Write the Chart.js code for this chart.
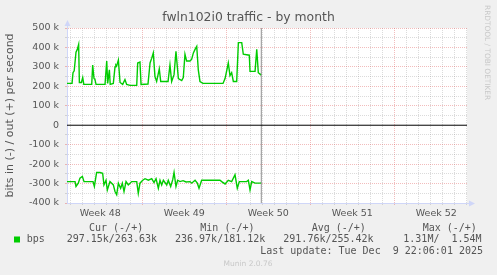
<!DOCTYPE html>
<html><head><meta charset="utf-8">
<script src="https://cdn.jsdelivr.net/npm/chart.js@4/dist/chart.umd.min.js"></script>
<style>html,body{margin:0;padding:0;background:#f0f0f0;}canvas{display:block}</style>
</head><body>
<canvas id="c" width="497" height="275"></canvas>
<script>
// ---- data (x = days since Sun 23 Nov 2025 00:00, values in kbit/s) ----
const chartTitle = 'fwln102i0 traffic - by month';
const yAxisTitle = 'bits in (-) / out (+) per second';
const watermark = 'RRDTOOL / TOBI OETIKER';
const weekNumbers = [48, 49, 50, 51, 52];
const weekStarts = [0, 7, 14, 21, 28, 35];
const xMin = 0.73, xMax = 34.06;
const yMin = -400000, yMax = 500000;
const nowDay = 16.92;

const outDays = [0.73,1.15,1.23,1.33,1.48,1.59,1.70,1.76,1.93,2.04,2.13,2.23,2.79,2.87,2.98,3.06,3.15,3.90,4.04,4.12,4.26,4.33,4.59,4.73,4.80,4.87,5.01,5.15,5.37,5.56,5.70,5.98,6.54,6.62,6.81,6.90,7.48,7.65,7.79,7.92,8.06,8.20,8.42,8.54,8.73,9.15,9.31,9.45,9.65,9.81,10.01,10.29,10.42,10.56,10.70,10.98,11.12,11.26,11.40,11.54,11.67,11.81,12.06,13.73,13.90,14.17,14.31,14.45,14.59,14.87,15.01,15.29,15.42,15.92,15.98,16.40,16.54,16.67,16.87,16.92];
const outK = [215,215,270,280,375,390,415,220,220,245,210,210,210,310,240,235,210,210,330,215,285,210,215,300,310,305,335,220,210,235,210,205,205,320,325,210,212,320,345,372,250,225,290,225,225,225,310,225,260,380,240,230,245,365,330,330,340,372,390,405,285,225,215,215,240,320,255,270,225,225,425,425,365,360,277,277,390,270,260,264];

const inDays = [0.73,1.40,1.48,1.67,1.81,2.01,2.15,2.90,3.01,3.20,3.48,3.70,3.81,3.98,4.09,4.31,4.59,4.73,4.87,5.01,5.20,5.34,5.48,5.65,5.84,6.12,6.54,6.67,6.81,7.04,7.23,7.51,7.79,7.98,8.15,8.34,8.48,8.62,8.76,9.04,9.17,9.37,9.54,9.65,9.81,9.95,10.15,10.40,10.65,10.98,11.12,11.40,11.59,11.73,11.95,12.65,13.48,13.62,13.90,14.17,14.45,14.73,14.92,15.09,15.70,15.84,15.98,16.12,16.40,16.81,16.92];
const inK = [-290,-290,-315,-298,-272,-263,-290,-290,-315,-243,-243,-247,-307,-283,-333,-290,-307,-341,-358,-298,-324,-298,-341,-290,-307,-290,-290,-350,-298,-283,-275,-283,-275,-295,-275,-324,-283,-307,-283,-307,-283,-315,-280,-243,-315,-283,-290,-285,-292,-290,-298,-283,-298,-324,-283,-283,-283,-290,-302,-283,-290,-255,-324,-290,-290,-283,-333,-290,-298,-298,-297];

const legendSeries = 'bps';
const legendHeaders = ['Cur (-/+)', 'Min (-/+)', 'Avg (-/+)', 'Max (-/+)'];
const legendValues = ['297.15k/263.63k', '236.97k/181.12k', '291.76k/255.42k', '1.31M/  1.54M'];
const lastUpdate = 'Last update: Tue Dec  9 22:06:01 2025';
const version = 'Munin 2.0.76';

// ---- styling ----
const GREEN = '#00cc00';
const MGRID = 'rgba(222,80,80,0.38)';
const GRID = 'rgba(143,143,143,0.32)';
const AXIS = '#CFD6F8';
const FONT = '#555555';

const toPts = (xs, ys) => xs.map((x, i) => ({x: x, y: ys[i] * 1000}));

const bgPlugin = {
  id: 'bg',
  beforeDraw(chart) {
    const {ctx, chartArea: a} = chart;
    ctx.save();
    ctx.fillStyle = '#f0f0f0';
    ctx.fillRect(0, 0, chart.width, chart.height);
    ctx.fillStyle = '#ffffff';
    ctx.fillRect(a.left, a.top, a.right - a.left, a.bottom - a.top);
    ctx.restore();
  }
};

const decoPlugin = {
  id: 'deco',
  afterDraw(chart) {
    const {ctx, chartArea: a} = chart;
    ctx.save();
    // arrows
    ctx.fillStyle = AXIS; ctx.strokeStyle = AXIS; ctx.lineWidth = 1;
    ctx.beginPath(); ctx.moveTo(a.left + 0.5, a.top); ctx.lineTo(a.left + 0.5, a.top - 3); ctx.stroke();
    ctx.beginPath(); ctx.moveTo(a.left + 0.5, a.top - 8); ctx.lineTo(a.left - 2.5, a.top - 2); ctx.lineTo(a.left + 3.5, a.top - 2); ctx.closePath(); ctx.fill();
    ctx.beginPath(); ctx.moveTo(a.right, a.bottom + 0.5); ctx.lineTo(a.right + 2, a.bottom + 0.5); ctx.stroke();
    ctx.beginPath(); ctx.moveTo(a.right + 8, a.bottom + 0.5); ctx.lineTo(a.right + 2, a.bottom - 2.5); ctx.lineTo(a.right + 2, a.bottom + 3.5); ctx.closePath(); ctx.fill();

    // title
    ctx.fillStyle = FONT;
    ctx.font = '12.4px "DejaVu Sans"';
    ctx.textAlign = 'center'; ctx.textBaseline = 'middle';
    ctx.fillText(chartTitle, chart.width / 2, 18);
    // y axis title
    ctx.save();
    ctx.translate(10.5, (a.top + a.bottom) / 2);
    ctx.rotate(-Math.PI / 2);
    ctx.font = '11px "DejaVu Sans"';
    ctx.fillText(yAxisTitle, 0, 0);
    ctx.restore();
    // watermark
    ctx.save();
    ctx.translate(487, 5);
    ctx.rotate(Math.PI / 2);
    ctx.font = '7.4px "DejaVu Sans"';
    ctx.fillStyle = '#c8c8c8';
    ctx.textAlign = 'left';
    ctx.fillText(watermark, 0, 0);
    ctx.restore();

    // legend
    ctx.font = '10px "DejaVu Sans Mono"';
    ctx.textAlign = 'left'; ctx.textBaseline = 'middle';
    ctx.fillStyle = FONT;
    const colX = [66.7, 175, 283.3, 403.3];
    const hdrX = [89, 200.3, 311.7, 422.7];
    legendHeaders.forEach((h, i) => ctx.fillText(h, hdrX[i], 228));
    legendValues.forEach((v, i) => ctx.fillText(v, colX[i], 239.5));
    ctx.fillText(legendSeries, 26.7, 239.5);
    ctx.fillStyle = GREEN;
    ctx.fillRect(14, 236.5, 6, 6);
    ctx.fillStyle = FONT;
    ctx.textAlign = 'right';
    ctx.fillText(lastUpdate, 483, 251);
    ctx.textAlign = 'center';
    ctx.font = '7.5px "DejaVu Sans"';
    ctx.fillStyle = '#c8c8c8';
    ctx.fillText(version, 248, 264);
    ctx.restore();
  }
};

const isMult = (v, m) => Math.abs(v / m - Math.round(v / m)) < 1e-6;

new Chart(document.getElementById('c'), {
  type: 'line',
  data: {
    datasets: [
      {data: [{x: xMin, y: 0}, {x: xMax, y: 0}], borderColor: '#000000', borderWidth: 1, pointRadius: 0},
      {data: [{x: nowDay, y: yMin}, {x: nowDay, y: yMax}], borderColor: '#909090', borderWidth: 1, pointRadius: 0},
      {label: 'out', data: toPts(outDays, outK), borderColor: GREEN, borderWidth: 1.4, pointRadius: 0, tension: 0},
      {label: 'in', data: toPts(inDays, inK), borderColor: GREEN, borderWidth: 1.4, pointRadius: 0, tension: 0}
    ]
  },
  options: {
    responsive: false,
    animation: false,
    devicePixelRatio: 1,
    layout: {padding: {top: 28, right: 30, bottom: 0, left: 0}},
    plugins: {legend: {display: false}, tooltip: {enabled: false}, title: {display: false}},
    scales: {
      x: {
        type: 'linear', min: xMin, max: xMax,
        afterBuildTicks(scale) {
          const t = [];
          for (let v = Math.ceil(xMin * 2) / 2; v <= xMax; v += 0.5) t.push({value: v});
          scale.ticks = t;
        },
        afterFit(scale) { scale.height = 72; },
        grid: {
          drawTicks: true, tickLength: 2,
          color(ctx) {
            const v = ctx.tick ? ctx.tick.value : 0;
            if (!isMult(v, 1)) return 'rgba(0,0,0,0)';
            return isMult(v, 7) ? MGRID : GRID;
          }
        },
        border: {display: true, color: AXIS, dash: [1, 1]},
        ticks: {
          autoSkip: false, maxRotation: 0, padding: 3,
          color: FONT, font: {family: 'DejaVu Sans', size: 9.5},
          callback(v) {
            const k = (v - 3.5) / 7;
            if (isMult(v - 3.5, 7) && k >= 0 && k < weekNumbers.length) return 'Week ' + weekNumbers[Math.round(k)];
            return '';
          }
        }
      },
      y: {
        type: 'linear', min: yMin, max: yMax,
        afterBuildTicks(scale) {
          const t = [];
          for (let v = yMin; v <= yMax; v += 50000) t.push({value: v});
          scale.ticks = t;
        },
        afterFit(scale) { scale.width = 67; },
        grid: {
          drawTicks: true, tickLength: 2,
          color(ctx) {
            const v = ctx.tick ? ctx.tick.value : 0;
            if (v === 0) return 'rgba(0,0,0,0)';
            return isMult(v, 100000) ? MGRID : GRID;
          }
        },
        border: {display: true, color: AXIS, dash: [1, 1]},
        ticks: {
          autoSkip: false, padding: 6,
          color: FONT, font: {family: 'DejaVu Sans', size: 9.5},
          callback(v) {
            if (!isMult(v, 100000)) return '';
            return v === 0 ? '0' : (v / 1000) + ' k';
          }
        }
      }
    }
  },
  plugins: [bgPlugin, decoPlugin]
});
</script>
</body></html>
